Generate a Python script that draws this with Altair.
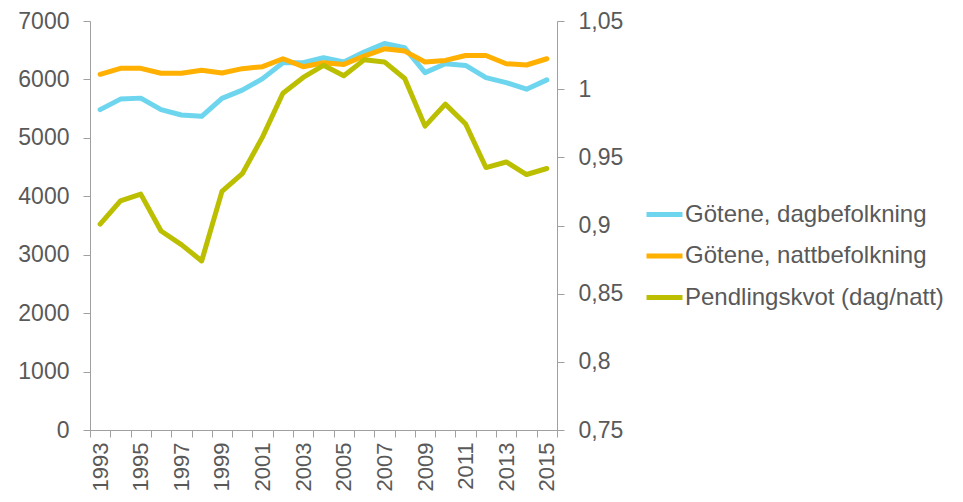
import altair as alt
import pandas as pd

years = list(range(1993, 2016))
dag = [5483, 5663, 5680, 5483, 5391, 5369, 5675, 5816, 6014, 6286, 6286, 6371,
       6298, 6468, 6614, 6541, 6116, 6269, 6240, 6031, 5946, 5833, 5992]
natt = [6088, 6190, 6190, 6105, 6105, 6156, 6111, 6184, 6218, 6354, 6218, 6286,
        6257, 6400, 6524, 6485, 6298, 6325, 6410, 6410, 6269, 6247, 6354]
kvot = [0.901, 0.918, 0.923, 0.896, 0.886, 0.874, 0.925, 0.938, 0.965, 0.997, 1.0086, 1.0175,
        1.0098, 1.0215, 1.020, 1.0078, 0.9729, 0.989, 0.9745, 0.9425, 0.9466, 0.9374, 0.9418]

series_names = ["Götene, dagbefolkning", "Götene, nattbefolkning", "Pendlingskvot (dag/natt)"]
series_colors = ["#6DD5ED", "#FFB000", "#BBBF00"]
left_ticks = [0, 1000, 2000, 3000, 4000, 5000, 6000, 7000]
right_ticks = [0.75, 0.8, 0.85, 0.9, 0.95, 1.0, 1.05]

df_left = pd.DataFrame({
    "year": years * 2,
    "value": dag + natt,
    "series": [series_names[0]] * len(years) + [series_names[1]] * len(years),
})
df_right = pd.DataFrame({
    "year": years,
    "value": kvot,
    "series": [series_names[2]] * len(years),
})

grey = "#595959"
axis_grey = "#a0a0a0"

x_enc = alt.X(
    "year:O",
    bandPosition=0.5,
    scale=alt.Scale(type="band", paddingInner=0, paddingOuter=0),
    axis=alt.Axis(
        title=None,
        labelAngle=-90,
        labelExpr="datum.value % 2 == 1 ? datum.label : ''",
        tickBand="extent",
        labelFontSize=22,
        labelColor=grey,
        labelPadding=5,
        tickSize=7,
        domainColor=axis_grey,
        tickColor=axis_grey,
        labelBaseline="middle",
    ),
)

color_enc = alt.Color(
    "series:N",
    scale=alt.Scale(domain=series_names, range=series_colors),
    legend=alt.Legend(
        title=None,
        orient="none",
        legendX=554,
        legendY=173,
        symbolType="stroke",
        symbolSize=1296,
        symbolStrokeWidth=5,
        labelFontSize=24,
        labelColor=grey,
        labelOffset=0,
        rowPadding=8.5,
        labelLimit=400,
    ),
)

left = alt.Chart(df_left).mark_line(strokeWidth=5, strokeCap="round", strokeJoin="round").encode(
    x=x_enc,
    y=alt.Y(
        "value:Q",
        scale=alt.Scale(domain=[0, 7000]),
        axis=alt.Axis(
            title=None,
            values=left_ticks,
            format="d",
            grid=False,
            labelFontSize=23,
            labelColor=grey,
            labelPadding=14,
            tickSize=7,
            domainColor=axis_grey,
            tickColor=axis_grey,
        ),
    ),
    color=color_enc,
)

right = alt.Chart(df_right).mark_line(strokeWidth=5, strokeCap="round", strokeJoin="round").encode(
    x=x_enc,
    y=alt.Y(
        "value:Q",
        scale=alt.Scale(domain=[0.75, 1.05], zero=False),
        axis=alt.Axis(
            title=None,
            orient="right",
            values=right_ticks,
            labelExpr="replace(format(datum.value, '.2~f'), '.', ',')",
            grid=False,
            labelFontSize=23,
            labelColor=grey,
            labelPadding=14,
            tickSize=7,
            domainColor=axis_grey,
            tickColor=axis_grey,
        ),
    ),
    color=color_enc,
)

chart = alt.layer(left, right).resolve_scale(y="independent").properties(
    width=467,
    height=409,
    padding={"left": 82, "top": 13, "right": 398, "bottom": 64},
    autosize=alt.AutoSizeParams(type="none"),
).configure(
    font="Liberation Sans",
).configure_view(
    stroke=None,
)

chart.save("out.html", embed_options={"renderer": "svg", "actions": False})
